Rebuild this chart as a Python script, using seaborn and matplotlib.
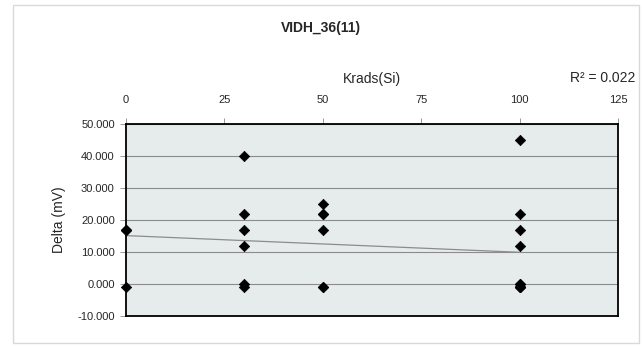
import matplotlib
matplotlib.use("Agg")
import matplotlib.pyplot as plt
import numpy as np
import pandas as pd
import seaborn as sns
from matplotlib.patches import Rectangle
from matplotlib.ticker import FormatStrFormatter

# Data (several markers overlap)
krads = [0, 0, 0, 0,
         30, 30, 30, 30, 30, 30,
         50, 50, 50, 50, 50, 50,
         100, 100, 100, 100, 100, 100, 100, 100, 100, 100]
delta_mv = [17, 17, 17, -1,
            40, 22, 17, 12, 0, -1,
            25, 22, 22, 17, -1, -1,
            45, 22, 17, 12, 0, 0, -1, -1, -1, -1]
x_ticks = [0, 25, 50, 75, 100, 125]
y_ticks = [-10, 0, 10, 20, 30, 40, 50]
r2_label = "R\u00b2 = 0.022"

df = pd.DataFrame({"Krads(Si)": krads, "Delta (mV)": delta_mv})

sns.set_style("white")
plt.rcParams["font.family"] = ["Liberation Sans", "DejaVu Sans"]

fig = plt.figure(figsize=(6.42, 3.47), dpi=100)
fig.patches.append(Rectangle((0.02, 0.012), 0.975, 0.975, transform=fig.transFigure,
                             fill=False, edgecolor="#d9d9d9", linewidth=1.0))
ax = fig.add_axes([0.196, 0.0893, 0.767, 0.5535])
ax.set_facecolor("#e6ebeb")

# Linear trend line over data range
slope, intercept = np.polyfit(df["Krads(Si)"], df["Delta (mV)"], 1)
xs = np.array([df["Krads(Si)"].min(), df["Krads(Si)"].max()])
ax.plot(xs, slope * xs + intercept, color="#8c8c8c", linewidth=0.9, zorder=2)

sns.scatterplot(data=df, x="Krads(Si)", y="Delta (mV)", ax=ax, marker="D", s=28,
                color="black", edgecolor="black", linewidth=0.5, zorder=3, clip_on=False)

ax.set_xlim(0, 125)
ax.set_ylim(-10, 50)
ax.set_xticks(x_ticks)
ax.set_yticks(y_ticks)
ax.yaxis.set_major_formatter(FormatStrFormatter("%.3f"))
ax.grid(axis="y", color="#8c8c8c", linewidth=0.8)
ax.set_axisbelow(True)

ax.xaxis.tick_top()
ax.xaxis.set_label_position("top")
ax.tick_params(axis="x", direction="out", length=4, width=0.6, color="#888888",
               labelsize=8, pad=10)
ax.tick_params(axis="y", direction="out", length=4, width=0.6, color="#888888",
               labelsize=8, pad=4, left=True)
ax.set_xlabel("Krads(Si)", fontsize=10, labelpad=8)
ax.set_ylabel("Delta (mV)", fontsize=10, labelpad=8)
for sp in ax.spines.values():
    sp.set_color("black")
    sp.set_linewidth(1.3)

fig.text(0.5, 0.92, "VIDH_36(11)", ha="center", va="center", fontsize=10,
         fontweight="bold")
fig.text(0.99, 0.775, r2_label, ha="right", va="center", fontsize=10)

fig.savefig("out.png", dpi=100)
